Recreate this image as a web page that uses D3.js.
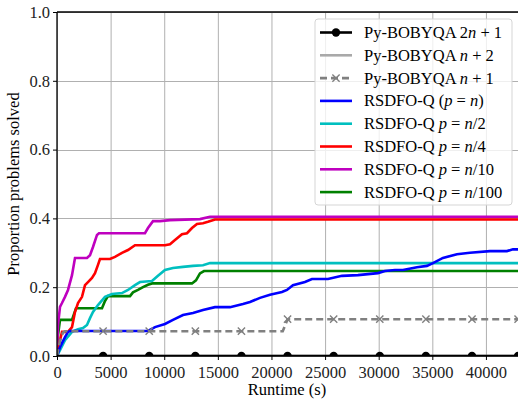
<!DOCTYPE html>
<html>
<head>
<meta charset="utf-8">
<script src="https://cdn.jsdelivr.net/npm/d3@7"></script>
<style>
  body { margin: 0; background: #fff; }
  svg { font-family: "Liberation Serif", "DejaVu Serif", serif; }
</style>
</head>
<body>
<svg id="chart" width="518" height="403"></svg>
<script>
// runtime (s) / proportion solved
var bobyqa2n1 = [[0, 0], [4300, 0], [8600, 0], [12900, 0], [17200, 0], [21500, 0], [25800, 0], [30100, 0], [34400, 0], [38700, 0], [43000, 0]]
var bobyqaN2 = [[0, 0], [43000, 0]]
var bobyqaN1 = [[0, 0], [280, 0.045], [560, 0.068], [750, 0.072], [4300, 0.072], [8600, 0.072], [12900, 0.072], [17200, 0.072], [21050, 0.072], [21500, 0.107], [25800, 0.107], [30100, 0.107], [34400, 0.107], [38700, 0.107], [43000, 0.107]]
var qFull = [[0, 0], [280, 0.026], [746, 0.055], [1026, 0.07], [1212, 0.0727], [8485, 0.0727], [9138, 0.084], [10070, 0.093], [10816, 0.105], [11748, 0.119], [12681, 0.125], [13613, 0.134], [14732, 0.142], [16131, 0.142], [17343, 0.151], [17995, 0.157], [18928, 0.169], [19860, 0.178], [20979, 0.186], [21445, 0.192], [22005, 0.206], [23124, 0.215], [23776, 0.224], [25268, 0.224], [26573, 0.233], [28065, 0.235], [29930, 0.241], [30583, 0.247], [31515, 0.25], [32261, 0.25], [33566, 0.258], [34499, 0.262], [35058, 0.27], [35991, 0.285], [37296, 0.296], [38508, 0.3], [40373, 0.305], [41958, 0.305], [42517, 0.31], [43000, 0.31]]
var qHalf = [[0, 0], [280, 0.017], [746, 0.046], [1399, 0.07], [1958, 0.078], [2424, 0.081], [2797, 0.09], [3077, 0.11], [3357, 0.128], [3823, 0.148], [4476, 0.172], [5128, 0.18], [6061, 0.183], [6620, 0.192], [7273, 0.206], [7739, 0.215], [8858, 0.218], [9417, 0.233], [10070, 0.25], [10816, 0.256], [11748, 0.259], [12681, 0.262], [13613, 0.264], [14266, 0.27], [43000, 0.27]]
var qQuarter = [[0, 0], [280, 0.046], [466, 0.07], [1026, 0.07], [1399, 0.084], [1678, 0.128], [1958, 0.154], [2331, 0.172], [2611, 0.206], [2890, 0.215], [3263, 0.227], [3543, 0.241], [3823, 0.265], [4009, 0.282], [4942, 0.282], [5408, 0.288], [6061, 0.3], [6620, 0.308], [7273, 0.322], [10070, 0.322], [10536, 0.325], [11002, 0.337], [11655, 0.354], [12121, 0.357], [12587, 0.372], [13054, 0.384], [13613, 0.386], [14079, 0.39], [14732, 0.397], [43000, 0.397]]
var qTenth = [[0, 0], [93, 0.09], [280, 0.143], [466, 0.154], [746, 0.172], [1026, 0.192], [1399, 0.235], [1678, 0.285], [2797, 0.285], [3077, 0.293], [3357, 0.317], [3730, 0.352], [3916, 0.357], [8205, 0.357], [8485, 0.372], [8951, 0.392], [9604, 0.392], [10536, 0.395], [13333, 0.398], [14266, 0.405], [43000, 0.405]]
var qHundredth = [[0, 0], [93, 0.06], [280, 0.105], [1399, 0.105], [1772, 0.139], [4196, 0.139], [4476, 0.16], [4755, 0.174], [6807, 0.174], [7086, 0.185], [7552, 0.192], [8019, 0.2], [8485, 0.207], [8858, 0.211], [12587, 0.211], [12960, 0.22], [13333, 0.24], [13706, 0.247], [43000, 0.247]]

var xTicks = [0, 5000, 10000, 15000, 20000, 25000, 30000, 35000, 40000]
var yTicks = [0, 0.2, 0.4, 0.6, 0.8, 1.0]

var series = [
    { data: bobyqa2n1, color: "#000000", dash: null, marker: "circle", label: ["Py-BOBYQA ", ["2", "n", " + 1"]] },
    { data: bobyqaN2, color: "#a9a9a9", dash: null, marker: null, label: ["Py-BOBYQA ", ["", "n", " + 2"]] },
    { data: bobyqaN1, color: "#808080", dash: "7,4", marker: "x", label: ["Py-BOBYQA ", ["", "n", " + 1"]] },
    { data: qFull, color: "#0000ff", dash: null, marker: null, label: ["RSDFO-Q ", ["(", "p", " = "], ["", "n", ")"]] },
    { data: qHalf, color: "#00bfbf", dash: null, marker: null, label: ["RSDFO-Q ", ["", "p", " = "], ["", "n", "/2"]] },
    { data: qQuarter, color: "#ff0000", dash: null, marker: null, label: ["RSDFO-Q ", ["", "p", " = "], ["", "n", "/4"]] },
    { data: qTenth, color: "#bf00bf", dash: null, marker: null, label: ["RSDFO-Q ", ["", "p", " = "], ["", "n", "/10"]] },
    { data: qHundredth, color: "#008000", dash: null, marker: null, label: ["RSDFO-Q ", ["", "p", " = "], ["", "n", "/100"]] }
]

var fontSize = 16.5

var svg = d3.select("#chart"),
    margin = { top: 12, left: 57, bottom: 47, right: 0 },
    width = +svg.attr("width"),
    height = +svg.attr("height")

var x = d3.scaleLinear().domain([0, 42990]).range([margin.left, width - margin.right])
var y = d3.scaleLinear().domain([0, 1]).range([height - margin.bottom, margin.top])

svg.append("defs").append("clipPath").attr("id", "clip")
    .append("rect")
    .attr("x", margin.left).attr("y", margin.top)
    .attr("width", width - margin.left).attr("height", height - margin.bottom - margin.top)

// grid
var grid = svg.append("g").attr("stroke", "#b0b0b0").attr("stroke-width", 1)
grid.selectAll(".gx").data(xTicks).enter().append("line")
    .attr("x1", d => x(d) + 0.5).attr("x2", d => x(d) + 0.5)
    .attr("y1", y(0)).attr("y2", y(1))
grid.selectAll(".gy").data(yTicks).enter().append("line")
    .attr("x1", x(0)).attr("x2", width)
    .attr("y1", d => Math.round(y(d)) + 0.5).attr("y2", d => Math.round(y(d)) + 0.5)

var line = d3.line().x(d => x(d[0])).y(d => y(d[1]))

var plot = svg.append("g").attr("clip-path", "url(#clip)")

// draw in reverse so the first entries sit on top like matplotlib's order
series.slice().reverse().forEach(function (s) {
    plot.append("path")
        .datum(s.data)
        .attr("fill", "none")
        .attr("stroke", s.color)
        .attr("stroke-width", 2.6)
        .attr("stroke-dasharray", s.dash)
        .attr("d", line)
})

// markers
var ms = series[2]
plot.selectAll(".xm").data(ms.data.filter(d => d[0] >= 4300 && d[0] % 4300 == 0)).enter()
    .append("path")
    .attr("d", d3.symbol(d3.symbolX, 36))
    .attr("transform", d => `translate(${x(d[0])},${y(d[1])})`)
    .attr("stroke", ms.color).attr("stroke-width", 1.4).attr("fill", "none")

plot.selectAll(".cm").data(series[0].data.slice(1)).enter()
    .append("circle")
    .attr("cx", d => x(d[0])).attr("cy", d => y(d[1]))
    .attr("r", 4.2).attr("fill", "#000")

// axes
var xAxis = svg.append("g")
    .attr("transform", `translate(0,${y(0)})`)
    .call(d3.axisBottom(x).tickValues(xTicks).tickFormat(d3.format("d")).tickSizeOuter(0).tickSize(4))
var yAxis = svg.append("g")
    .attr("transform", `translate(${x(0)},0)`)
    .call(d3.axisLeft(y).tickValues(yTicks).tickFormat(d3.format(".1f")).tickSizeOuter(0).tickSize(4))

svg.selectAll(".domain").remove()
svg.selectAll(".tick line").attr("stroke", "#000").attr("stroke-width", 1)
svg.selectAll(".tick text").attr("font-family", "Liberation Serif").attr("font-size", fontSize).attr("fill", "#222")
xAxis.selectAll(".tick text").attr("dy", "0.9em")

// spines
svg.append("line").attr("x1", x(0)).attr("x2", width).attr("y1", y(0)).attr("y2", y(0)).attr("stroke", "#000").attr("stroke-width", 1.3)
svg.append("line").attr("x1", x(0)).attr("x2", width).attr("y1", y(1)).attr("y2", y(1)).attr("stroke", "#000").attr("stroke-width", 1.3)
svg.append("line").attr("x1", x(0)).attr("x2", x(0)).attr("y1", y(0)).attr("y2", y(1)).attr("stroke", "#000").attr("stroke-width", 1.3)

// axis labels
svg.append("text")
    .attr("x", 287).attr("y", 395)
    .attr("text-anchor", "middle")
    .attr("font-size", fontSize)
    .text("Runtime (s)")
svg.append("text")
    .attr("transform", "translate(19,184) rotate(-90)")
    .attr("text-anchor", "middle")
    .attr("font-size", fontSize)
    .text("Proportion problems solved")

// legend
var lg = svg.append("g").attr("transform", "translate(315,19)")
lg.append("rect")
    .attr("width", 197).attr("height", 186)
    .attr("rx", 3)
    .attr("fill", "#fff").attr("fill-opacity", 0.8)
    .attr("stroke", "#d5d5d5")

series.forEach(function (s, i) {
    var row = lg.append("g").attr("transform", `translate(0,${13.5 + i * 22.8})`)
    row.append("line")
        .attr("x1", 5).attr("x2", 37)
        .attr("stroke", s.color).attr("stroke-width", 2.6)
        .attr("stroke-dasharray", s.dash)
    if (s.marker == "circle") {
        row.append("circle").attr("cx", 21).attr("r", 4.2).attr("fill", s.color)
    } else if (s.marker == "x") {
        row.append("path").attr("d", d3.symbol(d3.symbolX, 36)).attr("transform", "translate(21,0)")
            .attr("stroke", s.color).attr("stroke-width", 1.4).attr("fill", "none")
    }
    var t = row.append("text").attr("x", 49).attr("dy", "0.33em").attr("font-size", fontSize)
    s.label.forEach(function (part) {
        if (typeof part == "string") {
            t.append("tspan").text(part)
        } else {
            if (part[0]) t.append("tspan").text(part[0])
            t.append("tspan").attr("font-style", "italic").text(part[1])
            t.append("tspan").text(part[2])
        }
    })
})
</script>
</body>
</html>
